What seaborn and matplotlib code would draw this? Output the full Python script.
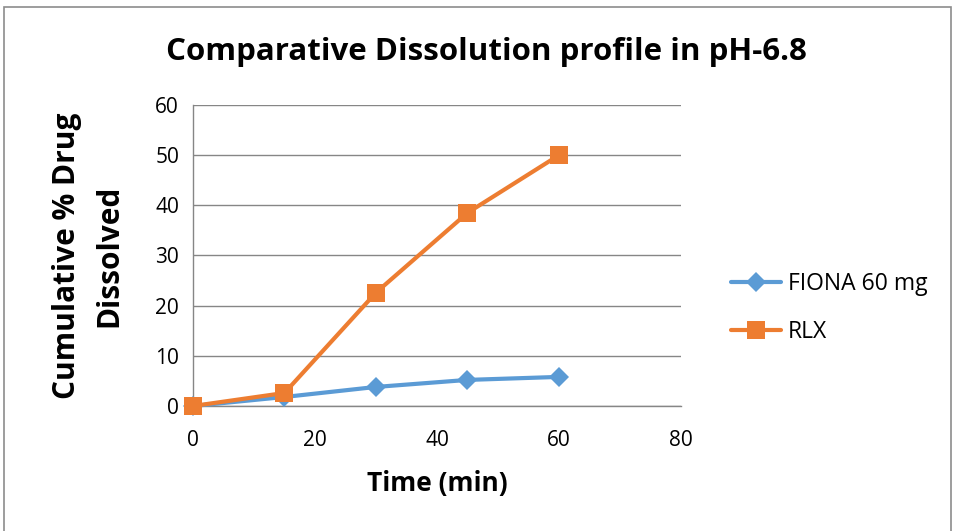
import matplotlib
matplotlib.use("Agg")
import matplotlib.pyplot as plt
import seaborn as sns
import pandas as pd
from matplotlib.patches import Rectangle

# Dissolution data, pH 6.8
time_min = [0, 15, 30, 45, 60]
fiona_60mg = [0, 1.8, 3.8, 5.2, 5.8]
rlx = [0, 2.6, 22.6, 38.5, 50.0]
series_names = ["FIONA 60 mg", "RLX"]
x_ticks = [0, 20, 40, 60, 80]
y_ticks = [0, 10, 20, 30, 40, 50, 60]

df = pd.DataFrame({
    "Time": time_min * 2,
    "Dissolved": fiona_60mg + rlx,
    "Product": [series_names[0]] * len(time_min) + [series_names[1]] * len(time_min),
})

sns.set_theme(style="white")
plt.rcParams["font.family"] = ["Open Sans", "DejaVu Sans"]
plt.rcParams["text.color"] = "black"
plt.rcParams["axes.labelcolor"] = "black"

fig = plt.figure(figsize=(9.54, 5.31), dpi=100)
ax = fig.add_axes([0.2023, 0.2354, 0.5115, 0.5669])

palette = {series_names[0]: "#5B9BD5", series_names[1]: "#ED7D31"}
markers = {series_names[0]: "D", series_names[1]: "s"}
sns.lineplot(data=df, x="Time", y="Dissolved", hue="Product", style="Product",
             palette=palette, markers=markers, dashes=False, linewidth=3,
             markersize=12.5, markeredgewidth=0, ax=ax, clip_on=False, zorder=3)
for line in ax.lines:
    if line.get_marker() == "D":
        line.set_markersize(10)

ax.set_xlim(0, 80)
ax.set_ylim(0, 60)
ax.set_xticks(x_ticks)
ax.set_yticks(y_ticks)
ax.tick_params(axis="both", labelsize=15, colors="black")
ax.tick_params(axis="x", direction="out", length=5, width=1, color="#868686", pad=12)
ax.tick_params(axis="y", length=0, pad=10)
ax.yaxis.grid(True, color="#868686", linewidth=1)
ax.xaxis.grid(False)
for side in ["top", "right"]:
    ax.spines[side].set_visible(False)
for side in ["left", "bottom"]:
    ax.spines[side].set_color("#868686")
    ax.spines[side].set_linewidth(1)

ax.set_xlabel("Time (min)", fontsize=19, fontweight="bold", labelpad=14)
ax.set_ylabel("Cumulative % Drug\nDissolved", fontsize=21.5, fontweight="bold",
              labelpad=22, linespacing=1.55)

fig.text(0.51, 0.902, "Comparative Dissolution profile in pH-6.8",
         fontsize=22.5, fontweight="bold", ha="center", va="center")

leg = ax.legend(loc="center left", bbox_to_anchor=(1.06, 0.325), frameon=False,
                fontsize=16.5, handlelength=2.2, labelspacing=1.05, handletextpad=0.3)
for h in leg.legend_handles:
    h.set_linewidth(3)

# Outer frame around the chart
fig.patches.append(Rectangle((4 / 954, -0.01), 947 / 954, 1 - 7 / 531 + 0.01,
                             transform=fig.transFigure, fill=False,
                             edgecolor="#8c8c8c", linewidth=1.2))

fig.savefig("out.png", dpi=100, facecolor="white")
